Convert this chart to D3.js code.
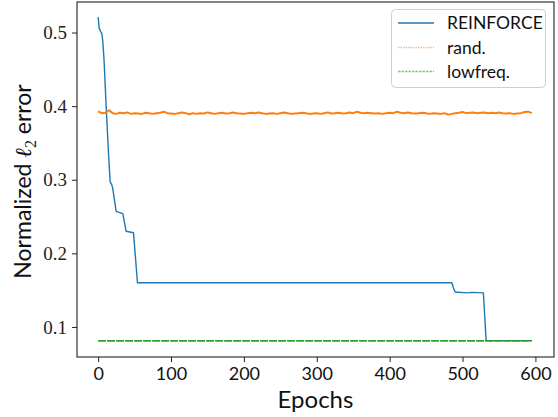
<!DOCTYPE html>
<html><head><meta charset="utf-8">
<script src="https://cdn.jsdelivr.net/npm/d3@7"></script>
<style>body{margin:0;background:#fff}svg{display:block}
.ytick text{font-family:'Liberation Serif','DejaVu Serif',serif !important;}
</style>
</head><body>
<script>
// ---- data ----
const xTicks = [0,100,200,300,400,500,600];
const yTicks = [0.1,0.2,0.3,0.4,0.5];
const seriesNames = ["REINFORCE","rand.","lowfreq."];
const reinforceEpochs = [0,1.4,3.7,5,6.4,8.2,11,14,16.5,18.8,20.1,24.7,33.9,38.4,48.5,54,150,300,480.7,485.3,487.6,489.9,505.9,512.7,528.6,532.4,560,595];
const reinforceValues = [0.521,0.506,0.501,0.499,0.488,0.461,0.40,0.34,0.297,0.293,0.288,0.257,0.254,0.230,0.228,0.160,0.160,0.160,0.160,0.160,0.153,0.1476,0.1463,0.147,0.1463,0.0815,0.0815,0.0815];
const randEpochs = d3.range(0,600,5);
const randValues = [0.393,0.3905,0.391,0.3945,0.3905,0.3895,0.391,0.3905,0.3915,0.3895,
0.3905,0.390,0.3895,0.391,0.3905,0.3895,0.3905,0.391,0.3925,0.3905,
0.390,0.3895,0.3905,0.3915,0.3905,0.389,0.3905,0.3895,0.3905,0.390,
0.3915,0.3905,0.3895,0.3905,0.391,0.390,0.3905,0.3915,0.3905,0.390,
0.3895,0.3905,0.391,0.3905,0.3915,0.3905,0.3895,0.390,0.3905,0.3895,
0.3905,0.3915,0.3905,0.3895,0.390,0.3905,0.391,0.3905,0.3895,0.390,
0.3905,0.3895,0.3905,0.3915,0.390,0.3905,0.391,0.390,0.3905,0.3915,
0.3905,0.3925,0.391,0.3905,0.391,0.3905,0.390,0.3905,0.3895,0.3905,
0.391,0.3905,0.3925,0.391,0.3905,0.3915,0.3905,0.390,0.3905,0.391,
0.3905,0.3895,0.3905,0.390,0.3895,0.3905,0.3885,0.3895,0.3905,0.391,
0.392,0.3905,0.391,0.3915,0.3905,0.391,0.3915,0.3905,0.391,0.3905,
0.3915,0.3905,0.390,0.3905,0.3895,0.390,0.3905,0.392,0.3925,0.3905];
const lowfreqEpochs = [0,150,300,450,595];
const lowfreqValues = [0.081,0.081,0.081,0.081,0.081];
const colors = ["#1f77b4","#ff7f0e","#2ca02c"];

// ---- layout ----
const W=558,H=417;
const L=77,R=554,T=2,B=357;
const svg=d3.select("body").append("svg").attr("width",W).attr("height",H);
const x=d3.scaleLinear().domain([-29,625.5]).range([L,R]);
const y=d3.scaleLinear().domain([0.0592,0.5415]).range([B,T]);

const g=svg.append("g");
svg.append("clipPath").attr("id","c").append("rect").attr("x",L).attr("y",T).attr("width",R-L).attr("height",B-T);
const plot=g.append("g").attr("clip-path","url(#c)");
const line=d3.line().x(d=>x(d[0])).y(d=>y(d[1]));

plot.append("path").datum(d3.zip(reinforceEpochs,reinforceValues)).attr("d",line)
  .attr("fill","none").attr("stroke",colors[0]).attr("stroke-width",1.4).attr("stroke-linejoin","round");
plot.append("path").datum(d3.zip(randEpochs,randValues)).attr("d",line)
  .attr("fill","none").attr("stroke",colors[1]).attr("stroke-width",2).attr("stroke-linejoin","round");
plot.append("path").datum(d3.zip(lowfreqEpochs,lowfreqValues)).attr("d",line)
  .attr("fill","none").attr("stroke",colors[2]).attr("stroke-width",1.8).attr("stroke-dasharray","8,1");

// axes
const xa=g.append("g").attr("transform",`translate(0,${B})`)
  .call(d3.axisBottom(x).tickValues(xTicks).tickSize(5).tickPadding(5).tickFormat(d3.format("d")));
xa.attr("font-family","Lato, sans-serif").attr("font-size",18);
xa.selectAll("text").attr("fill","#111");
const ya=g.append("g").attr("class","ytick").attr("transform",`translate(${L},0)`)
  .call(d3.axisLeft(y).tickValues(yTicks).tickSize(5).tickPadding(5).tickFormat(d3.format(".1f")));
ya.attr("font-family","'Liberation Serif', serif").attr("font-size",19);
ya.selectAll("text").attr("fill","#222");
[xa,ya].forEach(a=>{a.select(".domain").remove();a.selectAll("line").attr("stroke","#222").attr("stroke-width",1);});
g.append("rect").attr("x",L).attr("y",T).attr("width",R-L).attr("height",B-T)
  .attr("fill","none").attr("stroke","#222").attr("stroke-width",1.1);

// labels
svg.append("text").attr("x",(L+R)/2).attr("y",408).attr("text-anchor","middle")
  .attr("font-family","Lato, sans-serif").attr("font-size",24).attr("fill","#111").text("Epochs");
const yl=svg.append("text").attr("transform",`translate(31,${(T+B)/2+2}) rotate(-90)`).attr("text-anchor","middle")
  .attr("font-family","Lato, sans-serif").attr("font-size",23).attr("fill","#111");
yl.append("tspan").text("Normalized ");
yl.append("tspan").attr("font-family","'DejaVu Serif', serif").attr("font-style","italic").text("ℓ");
yl.append("tspan").attr("dy",5).attr("font-family","'Liberation Serif', serif").attr("font-size",16).text("2");
yl.append("tspan").attr("dy",-5).text(" error");

// legend
const lg=svg.append("g");
lg.append("rect").attr("x",391.5).attr("y",9.5).attr("width",154).attr("height",78).attr("rx",4)
  .attr("fill","#fff").attr("fill-opacity",0.8).attr("stroke","#d0d0d0").attr("stroke-width",1);
const lrows=[23,47.5,71.5];
const ldash=[null,"1.5,1","2.5,1"];
const lcol=["#1f77b4","#ff8c2a","#2ca02c"];
const lw=[1.5,1.5,1.5];
seriesNames.forEach((n,i)=>{
  lg.append("line").attr("x1",398).attr("x2",434).attr("y1",lrows[i]).attr("y2",lrows[i])
    .attr("stroke",lcol[i]).attr("stroke-width",lw[i]).attr("stroke-opacity",i?0.6:1).attr("stroke-dasharray",ldash[i]);
  lg.append("text").attr("x",447).attr("y",lrows[i]).attr("dy","0.35em")
    .attr("font-family","Lato, sans-serif").attr("font-size",17.5).attr("fill","#111").text(n);
});
</script>
</body></html>
